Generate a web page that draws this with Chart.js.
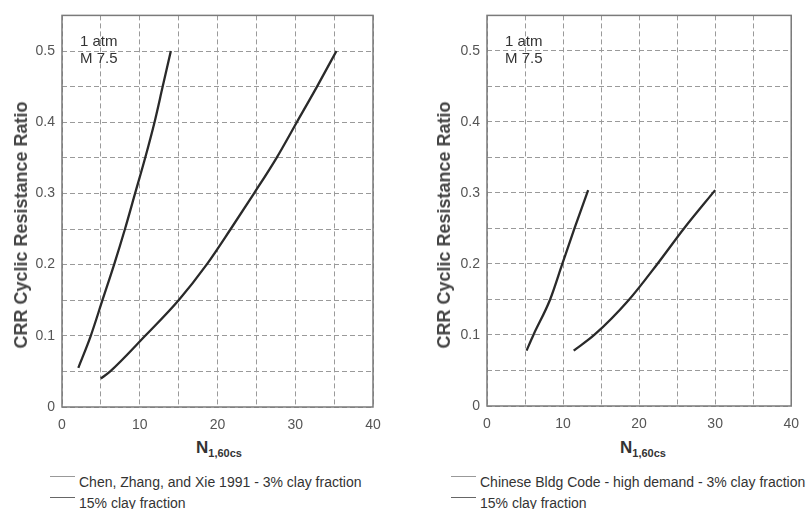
<!DOCTYPE html>
<html>
<head>
<meta charset="utf-8">
<script src="https://cdn.jsdelivr.net/npm/chart.js@4.4.0/dist/chart.umd.min.js"></script>
<style>
body { margin: 0; background: #fff; font-family: "Liberation Sans", Arial, sans-serif; }
#wrap { position: relative; width: 809px; height: 509px; overflow: hidden; background: #fff; }
#wrap canvas { position: absolute; top: 0; }
.xtitle { position: absolute; top: 438px; font-weight: bold; font-size: 17px; color: #333; transform: translateX(-50%); white-space: nowrap; }
.xtitle sub { font-size: 11px; vertical-align: -4px; }
.ytitle { position: absolute; top: 225px; font-weight: bold; font-size: 18px; color: #444; white-space: nowrap;
          transform: translate(-50%, -50%) rotate(-90deg); line-height: 20px; }
.legend { position: absolute; top: 474px; font-size: 14px; color: #333; white-space: nowrap; }
.legend .row { position: relative; height: 21px; line-height: 16px; padding-left: 29px; }
.legend .swatch { position: absolute; left: 0; top: 2px; width: 25px; border-top: 1px solid #999; }
.legend .row + .row .swatch { border-top-color: #666; }
</style>
</head>
<body>
<div id="wrap">
  <canvas id="leftChart" width="400" height="430" style="left:0"></canvas>
  <canvas id="rightChart" width="386" height="430" style="left:423px"></canvas>
  <div class="ytitle" style="left:21px">CRR Cyclic Resistance Ratio</div>
  <div class="ytitle" style="left:444px">CRR Cyclic Resistance Ratio</div>
  <div class="xtitle" style="left:219px">N<sub>1,60cs</sub></div>
  <div class="xtitle" style="left:643px">N<sub>1,60cs</sub></div>
  <div class="legend" id="leftLegend" style="left:50px"></div>
  <div class="legend" id="rightLegend" style="left:451px"></div>
</div>
<script>
// -------------------------------
// DATA
// -------------------------------
const X_MIN = 0, X_MAX = 40, Y_MIN = 0, Y_MAX = 0.55;
const xLabelTicks = [0, 10, 20, 30, 40];
const yLabelTicks = [0, 0.1, 0.2, 0.3, 0.4, 0.5];
const noteLines = ["1 atm", "M 7.5"];

// Chen, Zhang, and Xie 1991
const chen3N   = [2.1, 3.7, 5.2, 6.7, 8.1, 9.4, 10.7, 11.9, 12.95, 14.0];
const chen3CRR = [0.055, 0.10, 0.15, 0.20, 0.25, 0.30, 0.35, 0.40, 0.45, 0.50];
const chen15N   = [5.0, 6.2, 10.7, 15.0, 18.6, 21.7, 24.7, 27.6, 30.2, 32.8, 35.3];
const chen15CRR = [0.04, 0.05, 0.10, 0.15, 0.20, 0.25, 0.30, 0.35, 0.40, 0.45, 0.50];

// Chinese Bldg Code - high demand
const chn3N   = [5.2, 6.1, 8.3, 9.9, 11.5, 13.3];
const chn3CRR = [0.078, 0.10, 0.15, 0.20, 0.25, 0.304];
const chn15N   = [11.4, 14.1, 18.7, 22.4, 25.9, 30.0];
const chn15CRR = [0.078, 0.10, 0.15, 0.20, 0.25, 0.304];

const leftLegend  = ["Chen, Zhang, and Xie 1991 - 3% clay fraction", "15% clay fraction"];
const rightLegend = ["Chinese Bldg Code - high demand - 3% clay fraction", "15% clay fraction"];

// -------------------------------
// HELPERS
// -------------------------------
function toPoints(xs, ys) {
    return xs.map((x, i) => ({ x: x, y: ys[i] }));
}

function isLabelTick(list, v) {
    return list.some(t => Math.abs(t - v) < 1e-6);
}

// box round the plot + the "1 atm / M 7.5" note
const framePlugin = {
    id: "frame",
    afterDatasetsDraw(chart) {
        const a = chart.chartArea;
        const ctx = chart.ctx;
        ctx.save();
        ctx.strokeStyle = "#7a7a7a";
        ctx.lineWidth = 1.5;
        ctx.strokeRect(a.left, a.top, a.right - a.left, a.bottom - a.top);
        ctx.fillStyle = "#333";
        ctx.font = "15px 'Liberation Sans', Arial, sans-serif";
        ctx.textBaseline = "middle";
        noteLines.forEach((t, i) => ctx.fillText(t, a.left + 18, a.top + 26 + i * 17));
        ctx.restore();
    }
};

function makeChart(id, series, yAxisWidth, padRight, xAxisHeight) {
    const ctx = document.getElementById(id).getContext("2d");
    return new Chart(ctx, {
        type: "scatter",
        data: {
            datasets: series.map(s => ({
                data: toPoints(s[0], s[1]),
                showLine: true,
                borderColor: "#2a2a2a",
                borderWidth: 2.3,
                pointRadius: 0,
                cubicInterpolationMode: "monotone"
            }))
        },
        options: {
            responsive: false,
            animation: false,
            layout: { padding: { top: 11, right: padRight, left: 0, bottom: 0 } },
            plugins: { legend: { display: false }, tooltip: { enabled: false } },
            scales: {
                x: {
                    type: "linear",
                    min: X_MIN, max: X_MAX,
                    afterFit: sc => { sc.height = xAxisHeight; },
                    grid: { color: "#9a9a9a", lineWidth: 1, drawTicks: false },
                    border: { display: false, dash: [5, 3] },
                    ticks: {
                        stepSize: 5, padding: 10, color: "#555", maxRotation: 0,
                        autoSkip: false,
                        font: { size: 14, family: "'Liberation Sans', Arial, sans-serif" },
                        callback: v => isLabelTick(xLabelTicks, v) ? String(v) : ""
                    }
                },
                y: {
                    type: "linear",
                    min: Y_MIN, max: Y_MAX,
                    afterFit: sc => { sc.width = yAxisWidth; },
                    grid: { color: "#9a9a9a", lineWidth: 1, drawTicks: false },
                    border: { display: false, dash: [5, 3] },
                    ticks: {
                        stepSize: 0.05, padding: 7, color: "#555", autoSkip: false,
                        font: { size: 14, family: "'Liberation Sans', Arial, sans-serif" },
                        callback: v => isLabelTick(yLabelTicks, v) ? String(Math.round(v * 10) / 10) : ""
                    }
                }
            }
        },
        plugins: [framePlugin]
    });
}

function buildLegend(id, labels) {
    const box = document.getElementById(id);
    labels.forEach(t => {
        const row = document.createElement("div");
        row.className = "row";
        const sw = document.createElement("span");
        sw.className = "swatch";
        row.appendChild(sw);
        row.appendChild(document.createTextNode(t));
        box.appendChild(row);
    });
}

makeChart("leftChart", [[chen3N, chen3CRR], [chen15N, chen15CRR]], 62, 27, 23);
makeChart("rightChart", [[chn3N, chn3CRR], [chn15N, chn15CRR]], 64, 11, 24);
buildLegend("leftLegend", leftLegend);
buildLegend("rightLegend", rightLegend);
</script>
</body>
</html>
